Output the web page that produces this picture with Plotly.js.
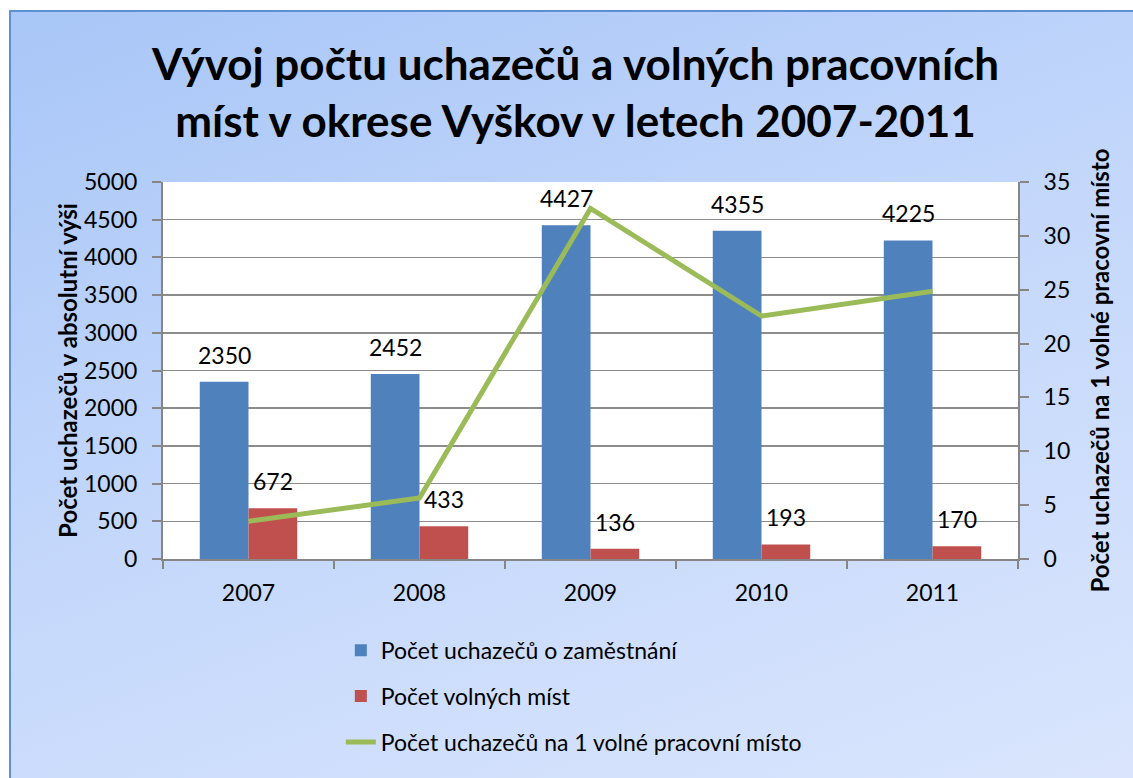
<!DOCTYPE html>
<html>
<head>
<meta charset="utf-8">
<script src="https://cdn.plot.ly/plotly-3.0.1.min.js"></script>
<style>
html,body{margin:0;padding:0;background:#fff;width:1133px;height:778px;overflow:hidden;}
#bg{position:absolute;left:9px;top:10px;width:1140px;height:790px;border:2px solid #5f8fd2;
background:linear-gradient(160deg,#a8c6f7 0%,#c3d7fb 45%,#dbe6fd 100%);}
#chart{position:absolute;left:0;top:0;width:1133px;height:778px;}
</style>
</head>
<body>
<div id="bg"></div>
<div id="chart"></div>
<script>
var years = ['2007','2008','2009','2010','2011'];
var uchazeci = [2350, 2452, 4427, 4355, 4225];
var volnaMista = [672, 433, 136, 193, 170];
var naMisto = [3.5, 5.66, 32.55, 22.56, 24.85];

var names = ['Počet uchazečů o zaměstnání','Počet volných míst','Počet uchazečů na 1 volné pracovní místo'];
var FONT = 'Lato, "Open Sans", sans-serif';

var traces = [
  {type:'bar', x:years, y:uchazeci, name:names[0], marker:{color:'#4f81bd'}, legendgroup:'a', hoverinfo:'y'},
  {type:'bar', x:years, y:volnaMista, name:names[1], marker:{color:'#c0504d'}, legendgroup:'b', hoverinfo:'y'},
  {type:'scatter', mode:'lines', x:years, y:naMisto, name:names[2], yaxis:'y2',
   line:{color:'#9bbb59', width:5}, legendgroup:'c'}
];

var annotations = [];
years.forEach(function(yr,i){
  annotations.push({x:i, y:uchazeci[i], xref:'x', yref:'y', text:String(uchazeci[i]), showarrow:false,
    xshift:-24.5, yshift:11, yanchor:'bottom', font:{family:FONT, size:23, color:'#000'}});
  annotations.push({x:i, y:volnaMista[i], xref:'x', yref:'y', text:String(volnaMista[i]), showarrow:false,
    xshift:24.5, yshift:11, yanchor:'bottom', font:{family:FONT, size:23, color:'#000'}});
});

var layout = {
  width:1133, height:778,
  paper_bgcolor:'rgba(0,0,0,0)', plot_bgcolor:'#ffffff',
  margin:{l:163, r:115, t:182, b:219},
  font:{family:FONT, size:23, color:'#000'},
  title:{text:'Vývoj počtu uchazečů a volných pracovních<br>míst v okrese Vyškov v letech 2007-2011',
    font:{family:FONT, size:44, color:'#000', weight:'bold'}, x:0.508, xanchor:'center', y:0.897, yanchor:'top'},
  barmode:'group', bargap:0.43, bargroupgap:0,
  showlegend:true,
  legend:{x:0.208, xanchor:'left', y:-0.185, yanchor:'top', orientation:'v', tracegroupgap:13,
    font:{family:FONT, size:23, color:'#000'}, bgcolor:'rgba(0,0,0,0)', traceorder:'grouped'},
  xaxis:{type:'category', range:[-0.5,4.5], autorange:false, showline:true, linecolor:'#868686', linewidth:2,
    ticks:'outside', tickson:'boundaries', ticklen:8, tickcolor:'#868686', tickwidth:2, showgrid:false,
    tickfont:{family:FONT, size:23}, ticklabelstandoff:12},
  yaxis:{range:[0,5000], dtick:500, showline:true, linecolor:'#868686', linewidth:2, ticks:'outside', ticklen:9,
    tickcolor:'#868686', tickwidth:2, gridcolor:'#8c8c8c', gridwidth:1.5, zeroline:false, tickfont:{family:FONT, size:23},
    ticklabelstandoff:10,
    title:{text:'Počet uchazečů v absolutní výši', font:{family:FONT, size:24, weight:'bold'}, standoff:0}},
  yaxis2:{range:[0,35], dtick:5, overlaying:'y', side:'right', showline:true, linecolor:'#868686', linewidth:2,
    ticks:'outside', ticklen:9, tickcolor:'#868686', tickwidth:2, showgrid:false, zeroline:false, tickfont:{family:FONT, size:23},
    ticklabelstandoff:10,
    title:{text:'Počet uchazečů na 1 volné pracovní místo', font:{family:FONT, size:24, weight:'bold'}, standoff:23}},
  annotations:annotations
};

Plotly.newPlot('chart', traces, layout, {displayModeBar:false, staticPlot:true});
</script>
</body>
</html>
